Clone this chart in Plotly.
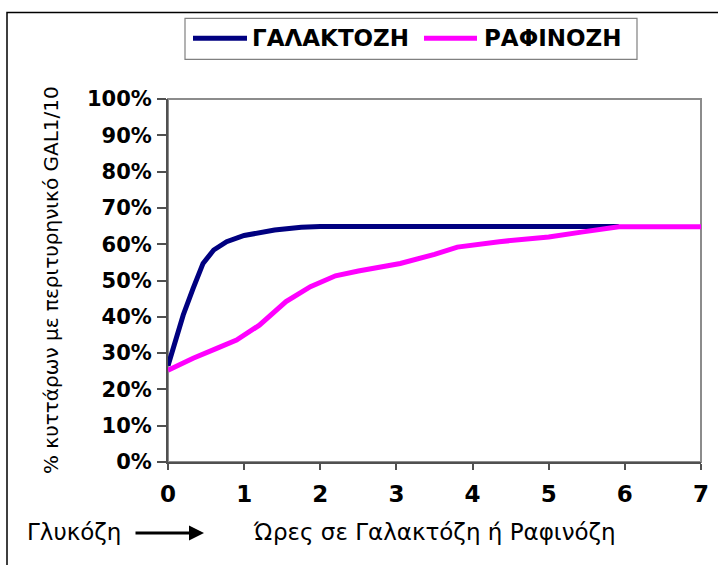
import plotly.graph_objects as go

# ---- data ----
gal_hours = [0, 0.1, 0.2, 0.33, 0.46, 0.6, 0.77, 1.0, 1.4, 1.75, 2, 3, 4, 5, 5.92]
gal_pct = [26.5, 34, 40.5, 47.8, 54.7, 58.4, 60.7, 62.4, 63.9, 64.7, 64.9, 64.9, 64.9, 64.9, 64.9]

raf_hours = [0, 0.33, 0.64, 0.9, 1.2, 1.55, 1.87, 2.2, 2.5, 3.05, 3.5, 3.8, 4.35, 5.0, 5.45, 5.92, 7]
raf_pct = [25.3, 28.6, 31.3, 33.6, 37.7, 44.2, 48.3, 51.3, 52.6, 54.7, 57.2, 59.2, 60.7, 62.0, 63.4, 64.8, 64.8]

series_names = ["ΓΑΛΑΚΤΟΖΗ", "ΡΑΦΙΝΟΖΗ"]
series_colors = ["#000080", "#FF00FF"]

x_ticks = [0, 1, 2, 3, 4, 5, 6, 7]
y_ticks = [0, 10, 20, 30, 40, 50, 60, 70, 80, 90, 100]
y_tick_labels = [f"{v}%" for v in y_ticks]

x_title = "Ώρες σε Γαλακτόζη ή Ραφινόζη"
y_title = "% κυττάρων με περιτυρηνικό GAL1/10"
start_label = "Γλυκόζη"

W, H = 718, 565
L, R, T, B = 168, 17, 99, 103
pw, ph = W - L - R, H - T - B


def px(x):
    return (x - L) / pw


def py(y):
    return (H - B - y) / ph


fig = go.Figure()
fig.add_trace(go.Scatter(x=gal_hours, y=gal_pct, mode="lines", name=series_names[0],
                         line=dict(color=series_colors[0], width=5)))
fig.add_trace(go.Scatter(x=raf_hours, y=raf_pct, mode="lines", name=series_names[1],
                         line=dict(color=series_colors[1], width=5)))

tickfont_y = dict(family="DejaVu Sans", size=21, color="black", weight="bold")
tickfont_x = dict(family="DejaVu Sans", size=23, color="black", weight="bold")

fig.update_xaxes(range=[0, 7], tickvals=x_ticks, ticks="outside", ticklen=6, tickwidth=1.5,
                 tickcolor="#505050", showline=True, linecolor="#505050", linewidth=2,
                 showgrid=False, zeroline=False, tickfont=tickfont_x, fixedrange=True,
                 ticklabelstandoff=4)
fig.update_yaxes(range=[0, 100], tickvals=y_ticks, ticktext=y_tick_labels, ticks="outside",
                 ticklen=9, tickwidth=1.5, tickcolor="#505050", showline=True,
                 linecolor="#505050", linewidth=2, showgrid=False, zeroline=False,
                 tickfont=tickfont_y, fixedrange=True, ticklabelstandoff=1)

shapes = [
    # plot frame (top / right in light gray)
    dict(type="rect", xref="paper", yref="paper", x0=0, x1=1, y0=0, y1=1,
         line=dict(color="#8c8c8c", width=2), layer="below"),
    # outer chart border
    dict(type="rect", xref="paper", yref="paper", x0=px(7), x1=px(740), y0=py(590), y1=py(12.5),
         line=dict(color="black", width=1.5), layer="below"),
    # legend box
    dict(type="rect", xref="paper", yref="paper", x0=px(185), x1=px(637), y0=py(59.3), y1=py(18.3),
         line=dict(color="#808080", width=1.2), fillcolor="white", layer="below"),
    # legend line samples
    dict(type="line", xref="paper", yref="paper", x0=px(193), x1=px(247), y0=py(38.3), y1=py(38.3),
         line=dict(color=series_colors[0], width=5)),
    dict(type="line", xref="paper", yref="paper", x0=px(424), x1=px(477), y0=py(38.3), y1=py(38.3),
         line=dict(color=series_colors[1], width=5)),
]

legend_font = dict(family="DejaVu Sans", size=23, color="black")
annotations = [
    dict(xref="paper", yref="paper", x=px(250), y=py(37.5), text=f"<b>{series_names[0]}</b>",
         showarrow=False, xanchor="left", yanchor="middle", font=legend_font),
    dict(xref="paper", yref="paper", x=px(482), y=py(37.5), text=f"<b>{series_names[1]}</b>",
         showarrow=False, xanchor="left", yanchor="middle", font=legend_font),
    dict(xref="paper", yref="paper", x=px(434), y=py(532), text=x_title, showarrow=False,
         xanchor="center", yanchor="middle", font=dict(family="DejaVu Sans", size=23, color="black")),
    dict(xref="paper", yref="paper", x=px(51), y=py(280), text=y_title, showarrow=False, textangle=-90,
         xanchor="center", yanchor="middle", font=dict(family="DejaVu Sans", size=20, color="black")),
    dict(xref="paper", yref="paper", x=px(25), y=py(532), text=start_label, showarrow=False,
         xanchor="left", yanchor="middle", font=dict(family="DejaVu Sans", size=23, color="black")),
    dict(xref="paper", yref="paper", x=px(204), y=py(533), ax=-70, ay=0, text="", showarrow=True,
         arrowhead=2, arrowsize=1, arrowwidth=3, arrowcolor="black"),
]

fig.update_layout(
    width=W, height=H, margin=dict(l=L, r=R, t=T, b=B, autoexpand=False),
    paper_bgcolor="white", plot_bgcolor="white", showlegend=False,
    shapes=shapes, annotations=annotations,
)

fig.write_html("out.html")
